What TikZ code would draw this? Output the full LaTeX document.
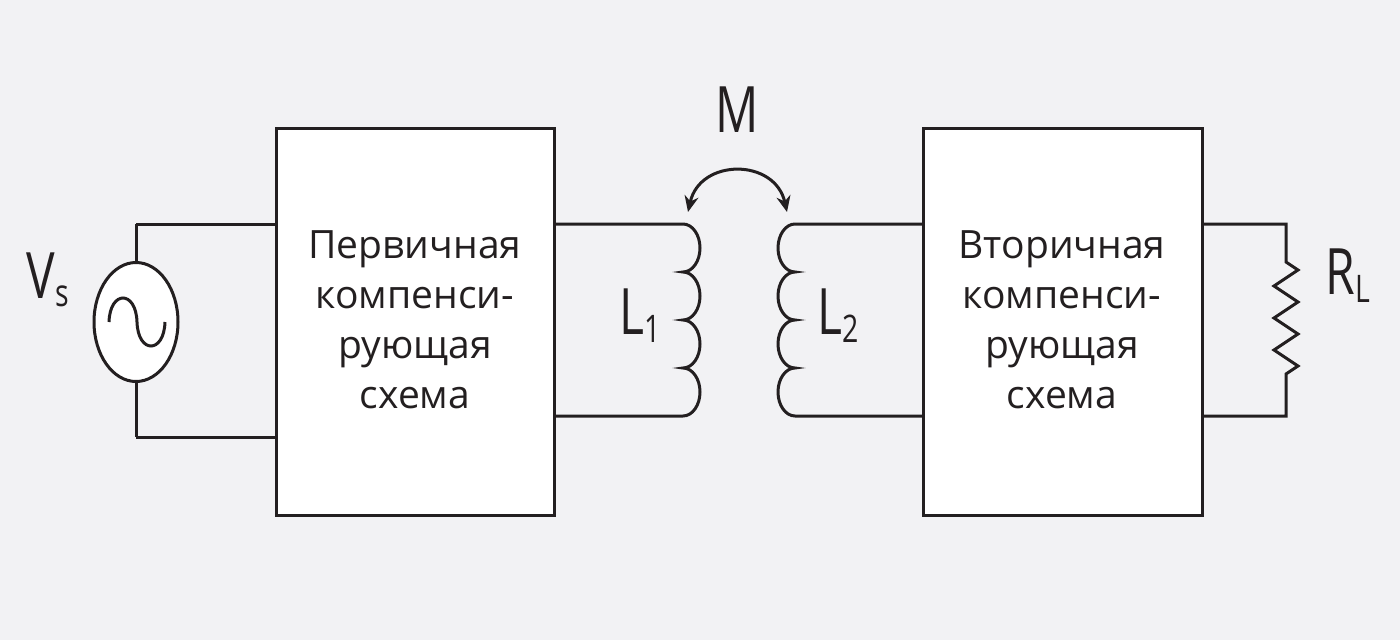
\documentclass[tikz,border=0pt]{standalone}
\usepackage{fontspec}
\setmainfont{Open Sans}
\usetikzlibrary{arrows.meta,shapes.geometric}
\definecolor{bg}{HTML}{F2F2F4}
\definecolor{ink}{HTML}{231F20}
\begin{document}
\begin{tikzpicture}[x=1pt,y=-1pt,line width=3pt,draw=ink,
  blk/.style={draw=ink,fill=white,line width=3pt},
  txt/.style={text=ink,font=\fontsize{39}{50}\selectfont,align=center},
  lbl/.style={text=ink,font=\fontsize{64}{64}\selectfont}]
\fill[bg] (0,0) rectangle (1400,640);
\useasboundingbox (0,0) rectangle (1400,640);
% wires left
\draw (136,224) -- (276,224); \draw (136,437) -- (276,437);
\draw (136,224) -- (136,264); \draw (136,380) -- (136,437);
\node[ellipse,draw=ink,fill=white,line width=3pt,minimum width=84pt,minimum height=119pt,inner sep=0] (src) at (136,322) {};
\draw (109,322) .. controls (110,290) and (136,290) .. (137,322) .. controls (138,354) and (164,354) .. (165,322);
% boxes
\draw[blk] (276,128) rectangle (554,515);
\node[txt] (t1) at (415,320) {Первичная\\компенси-\\рующая\\схема};
\draw[blk] (923,128) rectangle (1202,515);
\node[txt] (t2) at (1062,320) {Вторичная\\компенси-\\рующая\\схема};
% coil 1
\draw (554,224) -- (683,224)
  arc[start angle=-90,end angle=90,x radius=17,y radius=24]
  arc[start angle=-90,end angle=90,x radius=17,y radius=24]
  arc[start angle=-90,end angle=90,x radius=17,y radius=24]
  arc[start angle=-90,end angle=90,x radius=17,y radius=24] -- (554,416);
% coil 2
\draw (923,224) -- (795,224)
  arc[start angle=-90,end angle=-270,x radius=17,y radius=24]
  arc[start angle=-90,end angle=-270,x radius=17,y radius=24]
  arc[start angle=-90,end angle=-270,x radius=17,y radius=24]
  arc[start angle=-90,end angle=-270,x radius=17,y radius=24] -- (923,416);
% mutual arrow
\draw[{Stealth[length=16pt,width=14pt]}-{Stealth[length=16pt,width=14pt]}] (688,212) .. controls (700,158) and (775,158) .. (787,212);
% load
\draw (1202,224) -- (1286,224) -- (1286,262) -- (1298,270) -- (1274,286) -- (1298,302) -- (1274,318) -- (1298,334) -- (1274,350) -- (1298,366) -- (1286,374) -- (1286,416) -- (1202,416);
% labels
\node[lbl] (M) at (737,110) {\scalebox{0.75}[1]{M}};
\node[lbl] (L1) at (640,316) {\scalebox{0.75}[1]{L\raisebox{-8pt}{\fontsize{38}{38}\selectfont 1}}};
\node[lbl] (L2) at (838,316) {\scalebox{0.75}[1]{L\raisebox{-8pt}{\fontsize{38}{38}\selectfont 2}}};
\node[lbl] (Vs) at (48,280) {\scalebox{0.75}[1]{V\raisebox{-8pt}{\fontsize{38}{38}\selectfont s}}};
\node[lbl] (RL) at (1348,276) {\scalebox{0.75}[1]{R\raisebox{-8pt}{\fontsize{38}{38}\selectfont L}}};
\end{tikzpicture}
\end{document}
